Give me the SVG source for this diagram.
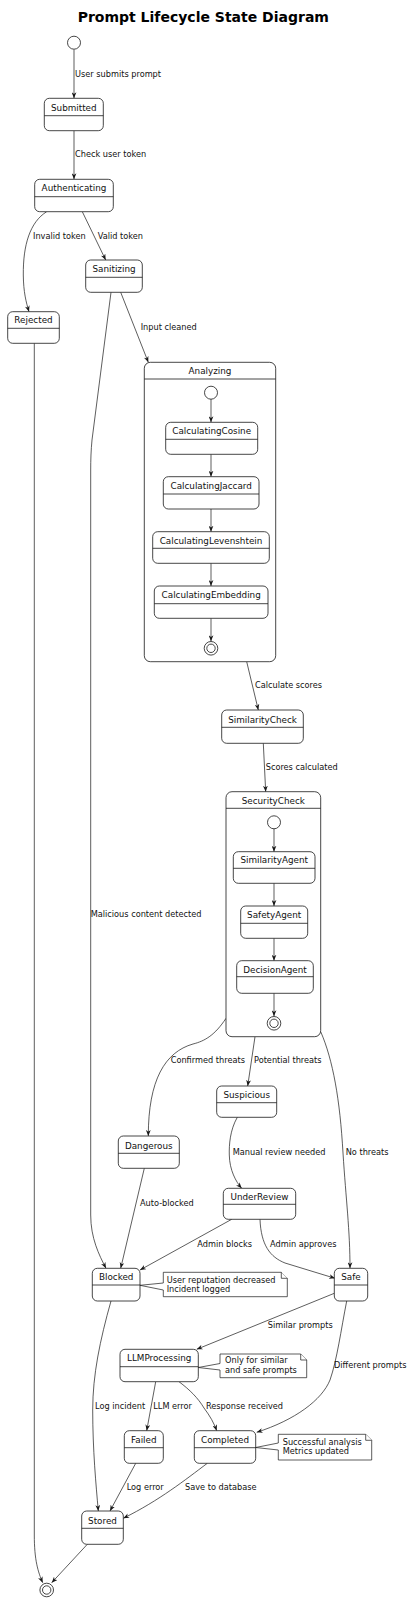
<svg xmlns="http://www.w3.org/2000/svg" width="411" height="1600" viewBox="0 0 411 1600">
<style>
.n{fill:#fff;stroke:#181818;stroke-width:0.8}
.d{stroke:#181818;stroke-width:0.8}
.t{font-family:"DejaVu Sans",sans-serif;font-size:8.8px;fill:#111;text-anchor:middle}
.l{font-family:"DejaVu Sans",sans-serif;font-size:8.2px;fill:#111}
.e{fill:none;stroke:#181818;stroke-width:0.7;marker-end:url(#a)}
.nt{fill:#fff;stroke:#181818;stroke-width:0.7}
.c{fill:#fff;stroke:#181818;stroke-width:0.8}
</style>
<defs>
<marker id="a" viewBox="0 0 10 8" markerWidth="6" markerHeight="5" refX="10" refY="4" orient="auto" markerUnits="userSpaceOnUse">
<path d="M0,0 L10,4 L0,8 L3,4 Z" fill="#181818"/>
</marker>
</defs>
<rect width="411" height="1600" fill="#fff"/>
<text x="203.3" y="21.5" font-family="DejaVu Sans,sans-serif" font-size="14" font-weight="bold" text-anchor="middle" fill="#000">Prompt Lifecycle State Diagram</text>

<g id="connectors">
<path class="e" d="M74,49.5 L74,98.3"/>
<text class="l" x="75" y="76.5">User submits prompt</text>
<path class="e" d="M74,130.7 L74,179.3"/>
<text class="l" x="75" y="157">Check user token</text>
<path class="e" d="M46.7,211.7 C30,222 23,245 23.3,275 C23.5,292 26,302 29,311.7"/>
<text class="l" x="33" y="239">Invalid token</text>
<path class="e" d="M82.3,211.7 L105.7,260"/>
<text class="l" x="97.7" y="239">Valid token</text>
<path class="e" d="M120.7,292.3 L148.3,362.3"/>
<text class="l" x="140.7" y="330">Input cleaned</text>
<path class="e" d="M111,292.3 L92,440 C91,450 90.7,460 90.7,470 L90.7,1215 C90.7,1238 99,1255 106,1268.3"/>
<text class="l" x="90.7" y="917.3">Malicious content detected</text>
<path class="e" d="M34.3,343.3 L34.3,1535 C34.3,1560 38,1572 42.7,1582.7"/>
<path class="e" d="M246.7,661.7 L258.3,710"/>
<text class="l" x="255" y="688.3">Calculate scores</text>
<path class="e" d="M263.3,743.3 L265.7,791.7"/>
<text class="l" x="265.7" y="770">Scores calculated</text>
<path class="e" d="M226,1018.3 C215,1035 205,1041 193,1044 C165,1052 148.3,1080 148.3,1136"/>
<text class="l" x="170.7" y="1063.3">Confirmed threats</text>
<path class="e" d="M255,1036.7 L247.7,1086"/>
<text class="l" x="254" y="1063.3">Potential threats</text>
<path class="e" d="M320.7,1031.7 C333,1060 340,1100 343,1153 C346,1200 350,1230 350,1268.3"/>
<text class="l" x="345.7" y="1155">No threats</text>
<path class="e" d="M237.3,1117.3 C230,1130 229,1145 229.3,1155 C229.5,1170 236,1182 241.7,1188.3"/>
<text class="l" x="232.7" y="1155">Manual review needed</text>
<path class="e" d="M144.3,1168.3 L120.7,1268.3"/>
<text class="l" x="140" y="1206">Auto-blocked</text>
<path class="e" d="M231.7,1219.3 L140,1270"/>
<text class="l" x="197.3" y="1247.3">Admin blocks</text>
<path class="e" d="M260,1219.3 C261,1245 270,1257 285,1263 L335,1278.3"/>
<text class="l" x="270" y="1247.3">Admin approves</text>
<path class="e" d="M111,1301 C100,1340 92.7,1375 92.7,1410 C92.7,1450 96,1485 98.3,1511"/>
<text class="l" x="95" y="1409">Log incident</text>
<path class="e" d="M334.3,1293.3 L196.7,1349.3"/>
<text class="l" x="267.7" y="1327.7">Similar prompts</text>
<path class="e" d="M346.7,1301 C341,1330 337,1360 330,1380 C322,1400 295,1420 256.7,1432.3"/>
<text class="l" x="334" y="1368.3">Different prompts</text>
<path class="e" d="M155.7,1381.7 L146.7,1430.7"/>
<text class="l" x="153.3" y="1409">LLM error</text>
<path class="e" d="M179,1381.7 C190,1390 198,1398 204,1408 C210,1416 214,1423 216.7,1430.7"/>
<text class="l" x="206" y="1409">Response received</text>
<path class="e" d="M135.7,1463.3 L110,1511"/>
<text class="l" x="126.7" y="1490">Log error</text>
<path class="e" d="M207.3,1463.3 C185,1480 160,1500 123.3,1518.3"/>
<text class="l" x="185" y="1490">Save to database</text>
<path class="e" d="M87.3,1544.3 L51.7,1582.7"/>
</g>

<g id="start"><circle class="c" cx="74" cy="42.7" r="6.5"/></g>
<g id="end"><circle class="c" cx="46.7" cy="1590" r="6.8"/><circle class="c" cx="46.7" cy="1590" r="4.2"/></g>

<g id="Submitted"><rect class="n" x="44.3" y="98.3" width="59" height="32.4" rx="5"/><line class="d" x1="44.3" y1="115.7" x2="103.3" y2="115.7"/><text class="t" x="73.8" y="110.7">Submitted</text></g>
<g id="Authenticating"><rect class="n" x="34.7" y="179.3" width="78.6" height="32.4" rx="5"/><line class="d" x1="34.7" y1="196.7" x2="113.3" y2="196.7"/><text class="t" x="74" y="191.3">Authenticating</text></g>
<g id="Sanitizing"><rect class="n" x="85.7" y="260" width="56.6" height="32.3" rx="5"/><line class="d" x1="85.7" y1="277.3" x2="142.3" y2="277.3"/><text class="t" x="114" y="272.3">Sanitizing</text></g>
<g id="Rejected"><rect class="n" x="7.7" y="311.7" width="51.6" height="31.6" rx="5"/><line class="d" x1="7.7" y1="328.3" x2="59.3" y2="328.3"/><text class="t" x="33.5" y="323.3">Rejected</text></g>

<g id="Analyzing">
<rect class="n" x="144.3" y="362.3" width="131.4" height="299.4" rx="6"/>
<line class="d" x1="144.3" y1="379" x2="275.7" y2="379"/>
<text class="t" x="210" y="374.2">Analyzing</text>
<circle class="c" cx="211" cy="392.7" r="6.5"/>
<path class="e" d="M211,399.2 L211,422.3"/>
<path class="e" d="M211,454.3 L211,476.7"/>
<path class="e" d="M211,509 L211,531.7"/>
<path class="e" d="M211,563.3 L211,586"/>
<path class="e" d="M211,618.3 L211,641.3"/>
<circle class="c" cx="211" cy="648.3" r="6.8"/><circle class="c" cx="211" cy="648.3" r="4.2"/>
</g>
<g id="CalculatingCosine"><rect class="n" x="165.7" y="422.3" width="92" height="32" rx="5"/><line class="d" x1="165.7" y1="439.3" x2="257.7" y2="439.3"/><text class="t" x="211.7" y="433.7">CalculatingCosine</text></g>
<g id="CalculatingJaccard"><rect class="n" x="163.3" y="476.7" width="95.7" height="32.3" rx="5"/><line class="d" x1="163.3" y1="494" x2="259" y2="494"/><text class="t" x="211.2" y="488.7">CalculatingJaccard</text></g>
<g id="CalculatingLevenshtein"><rect class="n" x="152.7" y="531.7" width="116.6" height="31.6" rx="5"/><line class="d" x1="152.7" y1="548.3" x2="269.3" y2="548.3"/><text class="t" x="211" y="543.5">CalculatingLevenshtein</text></g>
<g id="CalculatingEmbedding"><rect class="n" x="154.3" y="586" width="113.7" height="32.3" rx="5"/><line class="d" x1="154.3" y1="603.7" x2="268" y2="603.7"/><text class="t" x="211.2" y="598">CalculatingEmbedding</text></g>

<g id="SimilarityCheck"><rect class="n" x="221.7" y="710" width="81.6" height="33.3" rx="5"/><line class="d" x1="221.7" y1="727.3" x2="303.3" y2="727.3"/><text class="t" x="262.5" y="722.5">SimilarityCheck</text></g>

<g id="SecurityCheck">
<rect class="n" x="226" y="791.7" width="94.7" height="245" rx="6"/>
<line class="d" x1="226" y1="808.3" x2="320.7" y2="808.3"/>
<text class="t" x="273.3" y="803.5">SecurityCheck</text>
<circle class="c" cx="274" cy="822.3" r="6.5"/>
<path class="e" d="M274,828.8 L274,851.7"/>
<path class="e" d="M274,883.3 L274,906"/>
<path class="e" d="M274,938.3 L274,960.7"/>
<path class="e" d="M274,993.3 L274,1016.3"/>
<circle class="c" cx="274" cy="1023.3" r="6.8"/><circle class="c" cx="274" cy="1023.3" r="4.2"/>
</g>
<g id="SimilarityAgent"><rect class="n" x="233.3" y="851.7" width="81.7" height="31.6" rx="5"/><line class="d" x1="233.3" y1="868.3" x2="315" y2="868.3"/><text class="t" x="274.2" y="863">SimilarityAgent</text></g>
<g id="SafetyAgent"><rect class="n" x="240.7" y="906" width="67" height="32.3" rx="5"/><line class="d" x1="240.7" y1="923.3" x2="307.7" y2="923.3"/><text class="t" x="274.2" y="918">SafetyAgent</text></g>
<g id="DecisionAgent"><rect class="n" x="236.7" y="960.7" width="76.6" height="32.6" rx="5"/><line class="d" x1="236.7" y1="976.7" x2="313.3" y2="976.7"/><text class="t" x="275" y="972.8">DecisionAgent</text></g>

<g id="Suspicious"><rect class="n" x="216.7" y="1086" width="60" height="31.3" rx="5"/><line class="d" x1="216.7" y1="1102.7" x2="276.7" y2="1102.7"/><text class="t" x="246.7" y="1097.5">Suspicious</text></g>
<g id="Dangerous"><rect class="n" x="118.3" y="1136" width="61" height="32.3" rx="5"/><line class="d" x1="118.3" y1="1153.3" x2="179.3" y2="1153.3"/><text class="t" x="148.8" y="1148.5">Dangerous</text></g>
<g id="UnderReview"><rect class="n" x="223.3" y="1188.3" width="72.4" height="31" rx="5"/><line class="d" x1="223.3" y1="1204.3" x2="295.7" y2="1204.3"/><text class="t" x="259.5" y="1199.5">UnderReview</text></g>
<g id="Blocked"><rect class="n" x="92.3" y="1268.3" width="47.7" height="32.7" rx="5"/><line class="d" x1="92.3" y1="1285" x2="140" y2="1285"/><text class="t" x="116.2" y="1280.2">Blocked</text></g>
<g id="Safe"><rect class="n" x="334.3" y="1268.3" width="33.4" height="32.7" rx="5"/><line class="d" x1="334.3" y1="1285" x2="367.7" y2="1285"/><text class="t" x="351" y="1280.2">Safe</text></g>

<g id="noteBlocked">
<path class="nt" d="M163.3,1272.3 L281.3,1272.3 L287.3,1278.3 L287.3,1296.7 L163.3,1296.7 L163.3,1290 L140,1285.3 L163.3,1283 Z"/>
<path class="nt" d="M281.3,1272.3 L281.3,1278.3 L287.3,1278.3"/>
<text class="l" x="166.7" y="1282.7">User reputation decreased</text>
<text class="l" x="166.7" y="1292.3">Incident logged</text>
</g>

<g id="LLMProcessing"><rect class="n" x="120" y="1349.3" width="78.3" height="32.4" rx="5"/><line class="d" x1="120" y1="1366.7" x2="198.3" y2="1366.7"/><text class="t" x="159.2" y="1361.2">LLMProcessing</text></g>
<g id="noteLLM">
<path class="nt" d="M220,1354 L300.7,1354 L306.7,1360 L306.7,1377.7 L220,1377.7 L220,1370 L198.3,1367.5 L220,1363.5 Z"/>
<path class="nt" d="M300.7,1354 L300.7,1360 L306.7,1360"/>
<text class="l" x="225" y="1363.3">Only for similar</text>
<text class="l" x="225" y="1372.7">and safe prompts</text>
</g>

<g id="Failed"><rect class="n" x="124.3" y="1430.7" width="39" height="32.6" rx="5"/><line class="d" x1="124.3" y1="1447.7" x2="163.3" y2="1447.7"/><text class="t" x="143.8" y="1442.8">Failed</text></g>
<g id="Completed"><rect class="n" x="194.3" y="1430.7" width="61.4" height="32.6" rx="5"/><line class="d" x1="194.3" y1="1447.7" x2="255.7" y2="1447.7"/><text class="t" x="225" y="1442.8">Completed</text></g>
<g id="noteCompleted">
<path class="nt" d="M278.3,1434.3 L365.7,1434.3 L371.7,1440.3 L371.7,1460 L278.3,1460 L278.3,1450 L255.7,1447.5 L278.3,1443 Z"/>
<path class="nt" d="M365.7,1434.3 L365.7,1440.3 L371.7,1440.3"/>
<text class="l" x="282.7" y="1445">Successful analysis</text>
<text class="l" x="282.7" y="1454.3">Metrics updated</text>
</g>

<g id="Stored"><rect class="n" x="81.7" y="1511" width="41.6" height="33.3" rx="5"/><line class="d" x1="81.7" y1="1528.3" x2="123.3" y2="1528.3"/><text class="t" x="102.5" y="1523.5">Stored</text></g>
</svg>
